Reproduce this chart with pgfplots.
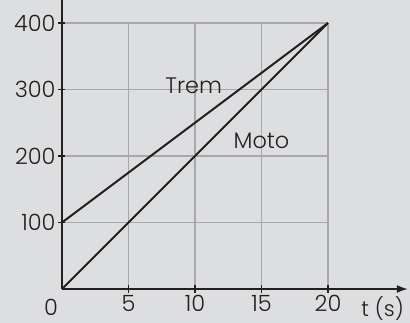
\documentclass[border=0pt]{standalone}
\usepackage{fontspec}
\setmainfont{Poppins Light}
\usepackage{pgfplots}
\pgfplotsset{compat=1.18}
\usetikzlibrary{arrows.meta}
\definecolor{bgcol}{RGB}{221,222,224}
\definecolor{gridcol}{RGB}{168,168,170}
\definecolor{inkcol}{RGB}{35,31,32}
\begin{document}
\begin{tikzpicture}
\useasboundingbox (-62bp,-34bp) rectangle (348bp,289bp);
\fill[bgcol] (-62bp,-34bp) rectangle (348bp,289bp);
\begin{axis}[
  at={(0,0)}, anchor=south west,
  x=13.3bp, y=0.665bp,
  xmin=0, xmax=26, ymin=0, ymax=435,
  clip=false,
  axis x line=bottom, axis y line=left,
  x axis line style={-{Latex[length=11bp,width=8bp]}, line width=1.6bp, inkcol},
  y axis line style={-, line width=1.6bp, inkcol},
  xtick={5,10,15,20}, ytick={100,200,300,400},
  major tick length=0pt,
  /pgf/number format/assume math mode=true,
  ticklabel style={font=\fontsize{22.5}{26}\selectfont, text=inkcol},
  xticklabel style={yshift=-3bp},
  yticklabel style={xshift=-3bp},
]
\foreach \xx in {5,10,15,20} {
  \edef\tmp{\noexpand\draw[gridcol, line width=1.6bp] (axis cs:\xx,0) -- (axis cs:\xx,400);}\tmp
  \edef\tmp{\noexpand\draw[inkcol, line width=1.4bp] (axis cs:\xx,-5.5) -- (axis cs:\xx,5.5);}\tmp
}
\foreach \yy in {100,200,300,400} {
  \edef\tmp{\noexpand\draw[gridcol, line width=1.6bp] (axis cs:0,\yy) -- (axis cs:20,\yy);}\tmp
  \edef\tmp{\noexpand\draw[inkcol, line width=1.4bp] (axis cs:-0.3,\yy) -- (axis cs:0.25,\yy);}\tmp
}
\addplot[inkcol, line width=2bp] coordinates {(0,100) (20,400)};
\addplot[inkcol, line width=2bp] coordinates {(0,0) (20,400)};
\node[font=\fontsize{22.5}{26}\selectfont, text=inkcol] at (axis cs:9.9,306) {Trem};
\node[font=\fontsize{22.5}{26}\selectfont, text=inkcol] at (axis cs:15,223) {Moto};
\node[font=\fontsize{22.5}{26}\selectfont, text=inkcol, anchor=north east, inner sep=0pt] at (axis cs:-0.3,-15) {0};
\node[font=\fontsize{21.5}{26}\selectfont, text=inkcol, anchor=north west, inner sep=0pt] at (axis cs:22.5,-11) {t (s)};
\end{axis}
\end{tikzpicture}
\end{document}
